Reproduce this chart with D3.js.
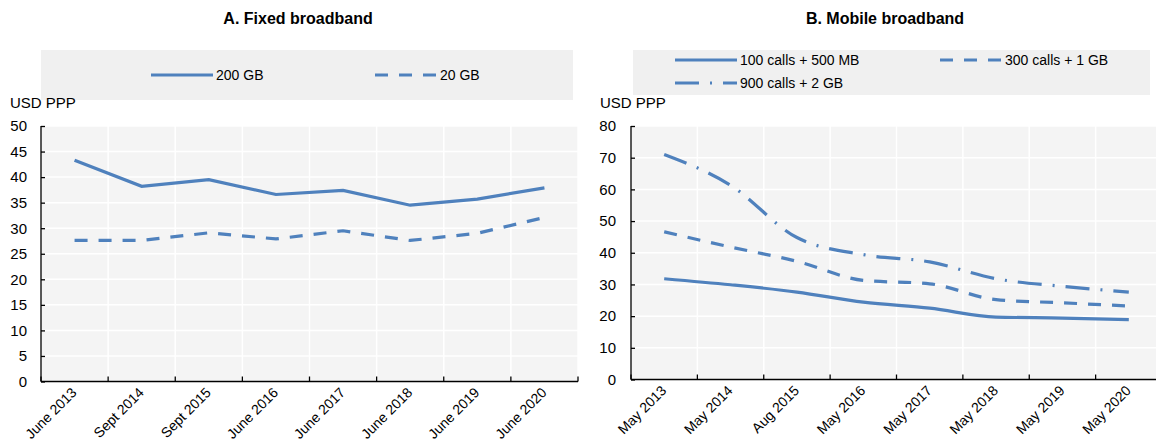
<!DOCTYPE html>
<html><head><meta charset="utf-8">
<script src="https://cdn.jsdelivr.net/npm/d3@7"></script>
<style>
body{margin:0;background:#fff;}
svg text{font-family:"Liberation Sans Narrow","Arial Narrow","Liberation Sans",Arial,sans-serif;fill:#000;}
</style></head>
<body><svg id="c" width="1156" height="448"></svg>
<script>
const fixedCats = ["June 2013","Sept 2014","Sept 2015","June 2016","June 2017","June 2018","June 2019","June 2020"];
const fixed200 = [43.3,38.2,39.5,36.6,37.4,34.5,35.7,37.9];
const fixed20  = [27.6,27.6,29.1,27.9,29.5,27.6,29.0,32.1];
const fixedTicks = [0,5,10,15,20,25,30,35,40,45,50];

const mobileCats = ["May 2013","May 2014","Aug 2015","May 2016","May 2017","May 2018","May 2019","May 2020"];
const mob100 = [31.8,29.9,27.6,24.4,22.5,19.7,19.4,18.9];
const mob300 = [46.6,41.8,37.3,31.3,30.2,25.2,24.2,23.2];
const mob900 = [71.0,61.3,44.8,39.4,37.1,31.8,29.4,27.6];
const mobileTicks = [0,10,20,30,40,50,60,70,80];

const COLOR = "#4f81bd";
const svg = d3.select("#c");

function panel(o){
  const g = svg.append("g");
  const x = d3.scaleBand().domain(o.cats).range([o.x0,o.x1]);
  const y = d3.scaleLinear().domain([0,o.max]).range([o.yb,o.yt]);
  // title
  g.append("text").attr("x",o.tx).attr("y",24).attr("text-anchor","middle")
    .style("font-weight","bold").style("font-size","16px").text(o.title);
  // legend box
  g.append("rect").attr("x",o.lg.x).attr("y",o.lg.y).attr("width",o.lg.w).attr("height",o.lg.h).attr("fill","#f0f0f0");
  o.series.forEach(s=>{
    g.append("line").attr("x1",s.lx).attr("x2",s.lx+62).attr("y1",s.ly).attr("y2",s.ly)
      .attr("stroke",COLOR).attr("stroke-width",3.2).attr("stroke-dasharray",s.dash||null);
    g.append("text").attr("x",s.lx+65).attr("y",s.ly+5).style("font-size","14px").text(s.name);
  });
  // plot bg
  g.append("rect").attr("x",o.x0).attr("y",o.yt).attr("width",o.x1-o.x0).attr("height",o.yb-o.yt).attr("fill","#f4f4f4");
  // grid
  g.selectAll(".hg").data(o.ticks).enter().append("line")
    .attr("x1",o.x0).attr("x2",o.x1).attr("y1",d=>y(d)).attr("y2",d=>y(d))
    .attr("stroke","#fff").attr("stroke-width",1.5);
  const bounds = o.cats.map(c=>x(c)).concat([x(o.cats[o.cats.length-1])+x.bandwidth()]);
  g.selectAll(".vg").data(bounds.slice(1)).enter().append("line")
    .attr("x1",d=>d).attr("x2",d=>d).attr("y1",o.yt).attr("y2",o.yb)
    .attr("stroke","#fff").attr("stroke-width",1.5);
  // y axis
  const ya = d3.axisLeft(y).tickValues(o.ticks).tickSize(-4).tickPadding(14);
  const yg = g.append("g").attr("transform",`translate(${o.x0},0)`).call(ya);
  yg.select(".domain").attr("d",`M0,${o.yt}V${o.yb}`).attr("stroke","#000").attr("stroke-width",1.3);
  yg.selectAll(".tick line").attr("stroke","#000").attr("stroke-width",1.3);
  yg.selectAll("text").style("font-size","15px").attr("x",-(o.x0-o.ylx));
  g.append("text").attr("x",o.ulx).attr("y",108).style("font-size","15px").text("USD PPP");
  // x axis
  g.append("line").attr("x1",o.x0).attr("x2",o.x1).attr("y1",o.yb).attr("y2",o.yb).attr("stroke","#000").attr("stroke-width",1.5);
  g.selectAll(".xt").data(bounds).enter().append("line")
    .attr("x1",d=>d).attr("x2",d=>d).attr("y1",o.yb).attr("y2",o.yb-5).attr("stroke","#000").attr("stroke-width",1.3);
  g.selectAll(".xl").data(o.cats).enter().append("text")
    .attr("transform",d=>`translate(${x(d)+x.bandwidth()/2+3},${o.yb+12}) rotate(-45)`)
    .attr("text-anchor","end").style("font-size","14px").text(d=>d);
  // lines
  const line = d3.line().x((d,i)=>x(o.cats[i])+x.bandwidth()/2).y(d=>y(d)).curve(o.curve);
  o.series.forEach(s=>{
    g.append("path").attr("d",line(s.values)).attr("fill","none").attr("stroke",COLOR)
      .attr("stroke-width",3.2).attr("stroke-dasharray",s.dash||null);
  });
}

panel({cats:fixedCats,max:50,ticks:fixedTicks,x0:41,x1:578,yt:126,yb:381.5,tx:298,ylx:27,ulx:10,
  title:"A. Fixed broadband", curve:d3.curveLinear,
  lg:{x:41,y:50,w:532,h:50},
  series:[{name:"200 GB",values:fixed200,lx:151,ly:75},
          {name:"20 GB",values:fixed20,lx:375,ly:75,dash:"13,11"}]});

panel({cats:mobileCats,max:80,ticks:mobileTicks,x0:631,x1:1162,yt:126,yb:379.5,tx:885,ylx:616,ulx:600,
  title:"B. Mobile broadband", curve:d3.curveMonotoneX,
  lg:{x:633,y:50,w:517,h:45},
  series:[{name:"100 calls + 500 MB",values:mob100,lx:675,ly:60},
          {name:"300 calls + 1 GB",values:mob300,lx:940,ly:60,dash:"13,11"},
          {name:"900 calls + 2 GB",values:mob900,lx:675,ly:83,dash:"24,11,2,11"}]});
</script></body></html>
